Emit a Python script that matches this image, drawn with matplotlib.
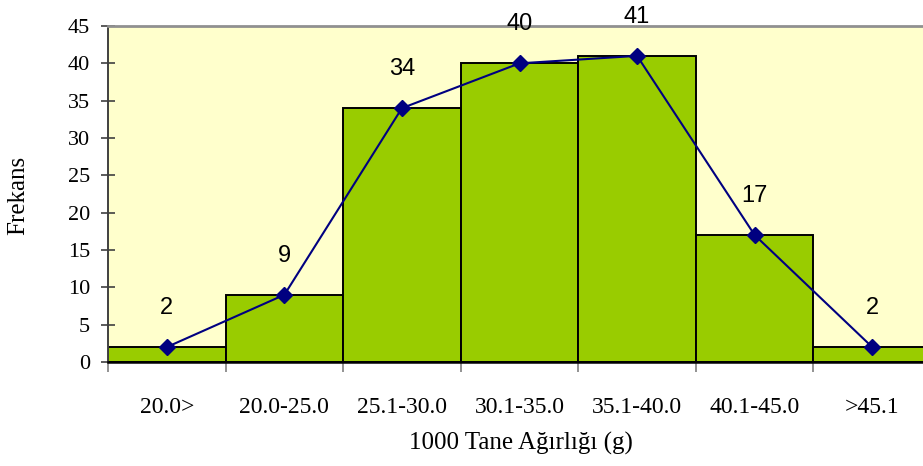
import matplotlib
matplotlib.use("Agg")
import matplotlib.pyplot as plt
import numpy as np

categories = ["20.0>", "20.0-25.0", "25.1-30.0", "30.1-35.0", "35.1-40.0", "40.1-45.0", ">45.1"]
frequencies = [2, 9, 34, 40, 41, 17, 2]
y_ticks = [0, 5, 10, 15, 20, 25, 30, 35, 40, 45]

fig = plt.figure(figsize=(9.23, 4.66), dpi=100)
ax = fig.add_axes([108 / 923, 104 / 466, 823 / 923, 336 / 466])
ax.set_facecolor("#FFFFCC")

x = np.arange(len(categories))
ax.bar(x, frequencies, width=1.0, color="#99CC00", edgecolor="black", linewidth=1.4, zorder=2)
ax.plot(x, frequencies, color="#000080", linewidth=1.5, marker="D", markersize=8,
        markerfacecolor="#000080", markeredgecolor="#000080", zorder=3)

for xi, v in zip(x, frequencies):
    ax.annotate(str(v), (xi, v), xytext=(0, 28), textcoords="offset points",
                ha="center", va="center", fontsize=17, family="Liberation Sans",
                annotation_clip=False)

ax.set_xlim(-0.5, len(categories) - 0.5)
ax.set_ylim(0, 45)
ax.set_yticks(y_ticks)
ax.set_yticklabels([str(t) for t in y_ticks], family="Liberation Serif", fontsize=16)

ax.set_xticks(x)
ax.set_xticklabels(categories, family="Liberation Serif", fontsize=17)
ax.tick_params(axis="x", length=0, pad=25)
ax.set_xticks(np.arange(len(categories) + 1) - 0.5, minor=True)
ax.tick_params(axis="x", which="minor", length=7, color="#808080", width=1.2)
ax.tick_params(axis="y", length=10, width=1.2, direction="inout", pad=8, color="#404040")

ax.spines["right"].set_visible(False)
ax.spines["top"].set_color("#909090")
ax.spines["top"].set_linewidth(2)
ax.spines["left"].set_color("#404040")
ax.spines["left"].set_linewidth(1.4)
ax.spines["bottom"].set_color("black")
ax.spines["bottom"].set_linewidth(1.8)

ax.set_ylabel("Frekans", family="Liberation Serif", fontsize=18)
ax.set_xlabel("1000 Tane Ağırlığı (g)", family="Liberation Serif", fontsize=18)
ax.xaxis.set_label_coords((521 - 108) / 823, -(443 - 362) / 336)
ax.yaxis.set_label_coords(-(108 - 18) / 823, (362 - 195) / 336)
ax.xaxis.label.set_va("center")
ax.yaxis.label.set_va("center")

fig.savefig("out.png", dpi=100)
